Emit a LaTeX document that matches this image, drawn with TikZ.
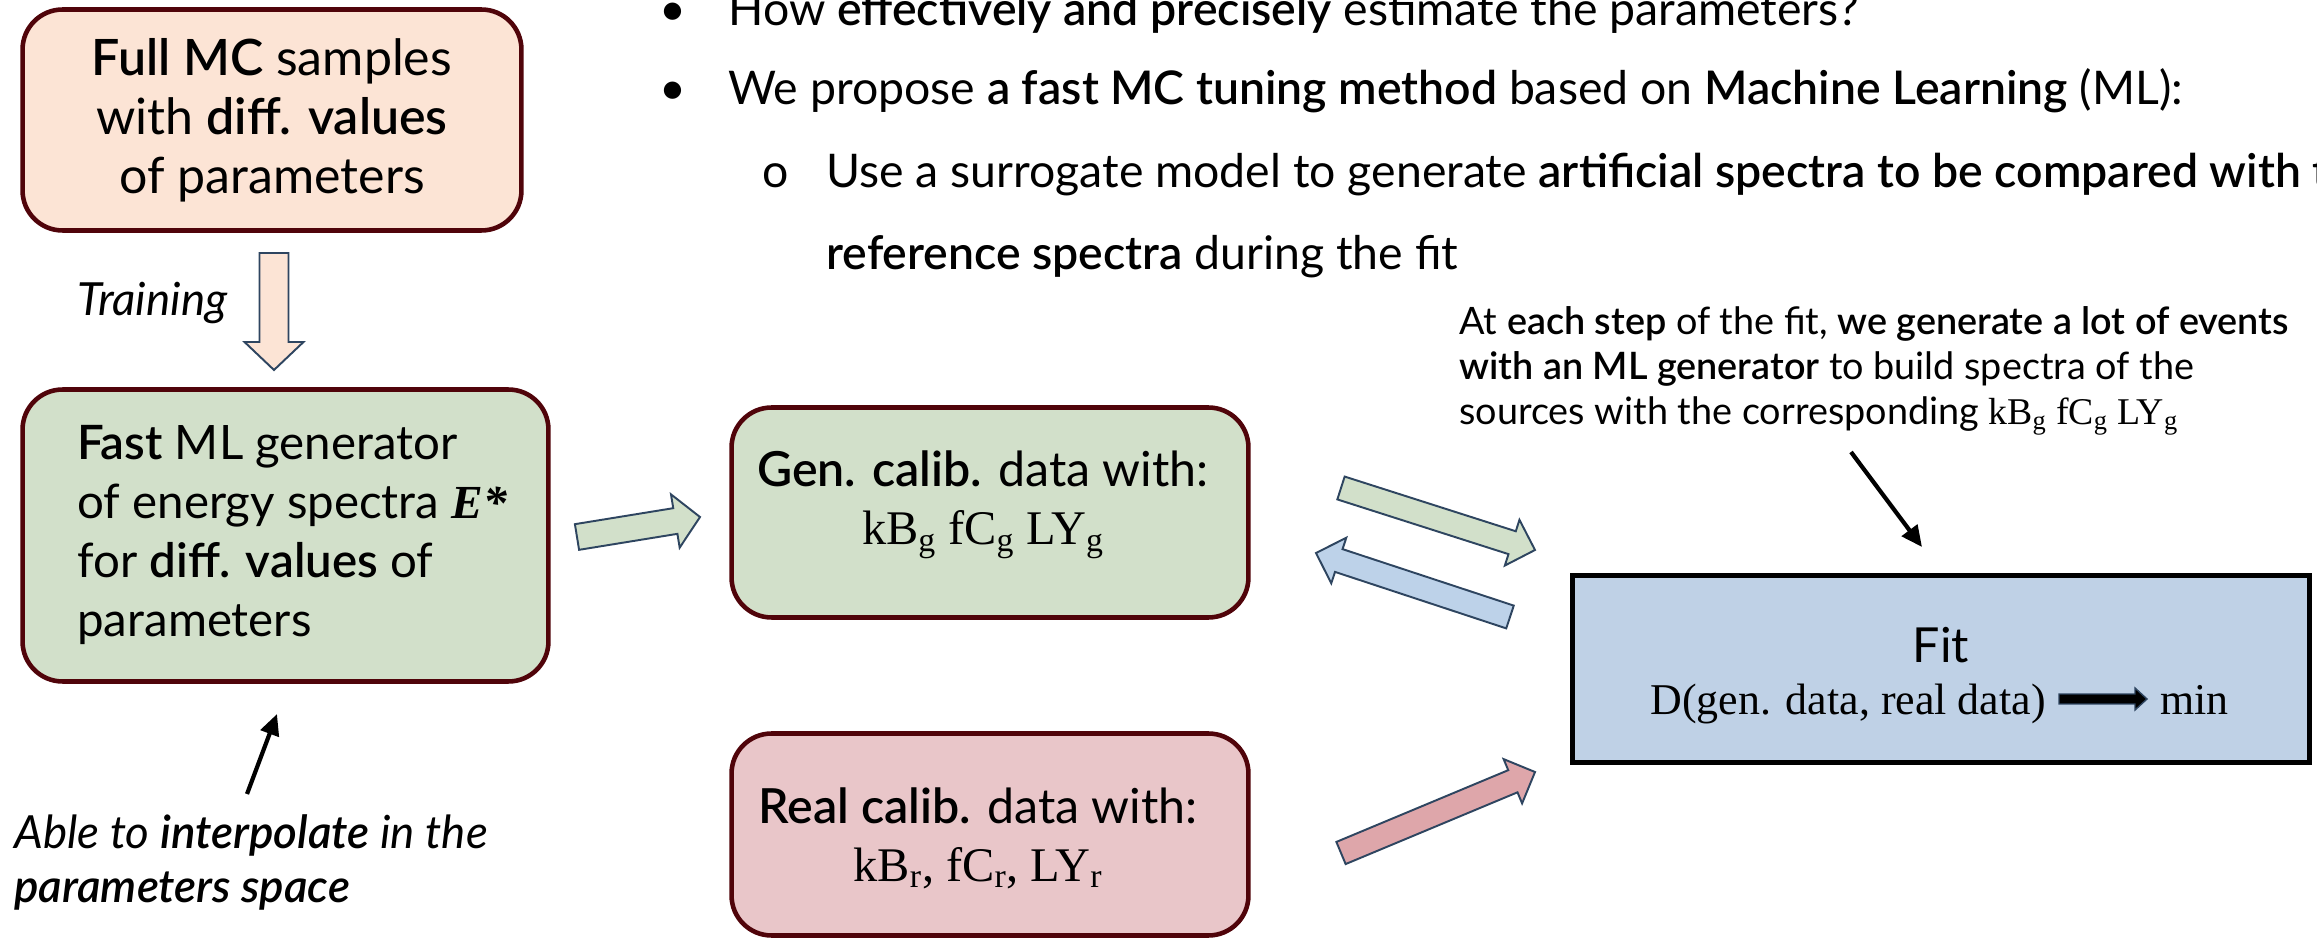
\documentclass[tikz,border=0pt]{standalone}
\usepackage{fontspec}
\setmainfont{Lato}[BoldFont={Lato Semibold},BoldItalicFont={Lato Semibold Italic}]
\newfontfamily\serifp{Liberation Serif}
\usetikzlibrary{calc,arrows.meta}
\definecolor{boxborder}{RGB}{80,4,10}
\definecolor{peach}{RGB}{252,228,213}
\definecolor{mlgreen}{RGB}{210,224,202}
\definecolor{realred}{RGB}{233,198,201}
\definecolor{redarr}{RGB}{222,166,170}
\definecolor{fitblue}{RGB}{191,209,230}
\definecolor{bluearr}{RGB}{189,210,233}
\definecolor{arrline}{RGB}{46,69,96}
\newcommand\blockarr[6]{%
  \coordinate (#2-#3-h) at ($(#3)!#6!(#2)$);
  \path[#1] ($(#2)!#4!90:(#3)$) -- ($(#2-#3-h)!#4!90:(#3)$) -- ($(#2-#3-h)!#5!90:(#3)$) -- (#3)
    -- ($(#2-#3-h)!#5!-90:(#3)$) -- ($(#2-#3-h)!#4!-90:(#3)$) -- ($(#2)!#4!-90:(#3)$) -- cycle;
}
\begin{document}
\begin{tikzpicture}[x=0.02cm,y=-0.02cm,
  rbox/.style={draw=boxborder, line width=2.6pt, rounded corners=0.8cm, inner sep=0pt},
  barr/.style={draw=arrline, line width=1.1pt, line join=miter},
  boxtxt/.style={inner sep=0pt, font=\fontsize{27.5}{33}\selectfont},
  bul/.style={inner sep=0pt, font=\fontsize{26.4}{30}\selectfont},
  blk/.style={line width=2.4pt, -{Triangle[length=0.42cm,width=0.38cm]}}]
\useasboundingbox (0,0) rectangle (2317,945);
\fill[white] (0,0) rectangle (2317,945);
\clip (0,0) rectangle (2317,945);

% top bullet text
\node[bul, anchor=base] (d1) at (673,26) {•};
\node[bul, anchor=base west] (b1) at (728,26) {How \textbf{effectively and precisely} estimate the parameters?};
\node[bul, anchor=base] (d2) at (673,105) {•};
\node[bul, anchor=base west] (b2) at (728,105) {We propose \textbf{a fast MC tuning method} based on \textbf{Machine Learning} (ML):};
\node[bul, anchor=base] (d3) at (776,188) {o};
\node[bul, anchor=base west] (b3) at (826,188) {Use a surrogate model to generate \textbf{artificial spectra to be compared with the}};
\node[bul, anchor=base west] (b4) at (826,270) {\textbf{reference spectra} during the fit};

% boxes
\node[rbox, fill=peach, minimum width=9.98cm, minimum height=4.42cm, align=center,
      font=\fontsize{28.5}{33.5}\selectfont] (mc) at (272,120)
      {\textbf{Full MC} samples\\ with \textbf{diff. values}\\ of parameters};
\node[rbox, fill=mlgreen, minimum width=10.52cm, minimum height=5.84cm] (ml) at (285.5,535.5) {};
\node[boxtxt, anchor=west, align=left, font=\fontsize{27}{33.6}\selectfont] (mltext) at (77,535)
      {\textbf{Fast} ML generator\\ of energy spectra {\serifp\bfseries\itshape E*}\\ for \textbf{diff. values} of\\ parameters};
\node[rbox, fill=mlgreen, minimum width=10.34cm, minimum height=4.2cm] (gen) at (990,512.5) {};
\node[boxtxt, align=center] (gentext) at (983,505)
      {\textbf{Gen. calib.} data with:\\ {\serifp kB\textsubscript{g} fC\textsubscript{g} LY\textsubscript{g}}};
\node[rbox, fill=realred, minimum width=10.34cm, minimum height=4.04cm] (real) at (990,834.5) {};
\node[boxtxt, align=center] (realtext) at (978,838)
      {\textbf{Real calib.} data with:\\ {\serifp kB\textsubscript{r}, fC\textsubscript{r}, LY\textsubscript{r}}};
\node[draw=black, line width=2.6pt, fill=fitblue, minimum width=14.75cm, minimum height=3.75cm] (fit) at (1941,669) {};
\node[boxtxt] (fitl) at (1941,645) {Fit};
\node[inner sep=0pt, anchor=base east, font=\serifp\fontsize{25}{28}\selectfont] (dd) at (2046,715) {D(gen. data, real data)};
\node[inner sep=0pt, anchor=base west, font=\serifp\fontsize{25}{28}\selectfont] (mn) at (2160,715) {min};

% annotations
\node[inner sep=0pt, anchor=west, font=\itshape\fontsize{26}{28}\selectfont] (train) at (77,303) {Training};
\node[inner sep=0pt, anchor=west, align=left, font=\itshape\fontsize{26}{30.7}\selectfont] (able) at (14,862)
      {Able to \textbf{interpolate} in the\\ \textbf{parameters space}};
\node[inner sep=0pt, anchor=north west, align=left, font=\fontsize{21.5}{25.6}\selectfont] (note) at (1459,306)
      {At \textbf{each step} of the fit, \textbf{we generate a lot of events}\\
       \textbf{with an ML generator} to build spectra of the\\
       sources with the corresponding {\serifp kB\textsubscript{g} fC\textsubscript{g} LY\textsubscript{g}}};

% block arrows
\coordinate (trA) at (274,253);  \coordinate (trB) at (274,370);
\coordinate (mgA) at (577,537);  \coordinate (mgB) at (700,517);
\coordinate (gfA) at (1341,488); \coordinate (gfB) at (1535,550);
\coordinate (fgA) at (1510,617); \coordinate (fgB) at (1316,553);
\coordinate (rfA) at (1341,853); \coordinate (rfB) at (1535,772);
\coordinate (dmA) at (2059,699); \coordinate (dmB) at (2147,699);
\blockarr{barr, fill=peach}{trA}{trB}{0.29cm}{0.59cm}{0.56cm}
\blockarr{barr, fill=mlgreen}{mgA}{mgB}{0.26cm}{0.54cm}{0.5cm}
\blockarr{barr, fill=mlgreen}{gfA}{gfB}{0.24cm}{0.48cm}{0.48cm}
\blockarr{barr, fill=bluearr}{fgA}{fgB}{0.24cm}{0.48cm}{0.48cm}
\blockarr{barr, fill=redarr}{rfA}{rfB}{0.24cm}{0.48cm}{0.48cm}
\blockarr{draw=arrline, line width=0.8pt, fill=black}{dmA}{dmB}{0.1cm}{0.22cm}{0.24cm}

% thin black arrows
\coordinate (upA) at (247,794); \coordinate (upB) at (277,714);
\coordinate (ntA) at (1851,452); \coordinate (ntB) at (1922,547);
\draw[blk] (upA) -- (upB);
\draw[blk] (ntA) -- (ntB);
\end{tikzpicture}
\end{document}
